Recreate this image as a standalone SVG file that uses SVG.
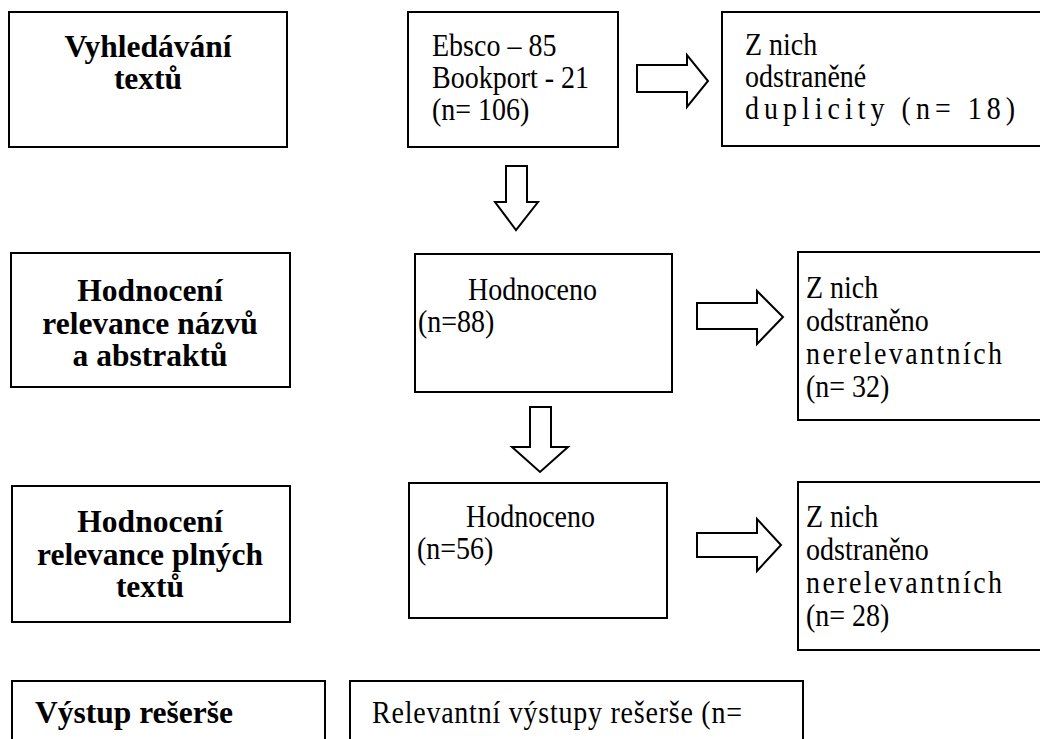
<svg xmlns="http://www.w3.org/2000/svg" width="1040" height="739" viewBox="0 0 1040 739">
<style>
rect.box{fill:#fff;stroke:#000;stroke-width:2}
.arr{fill:#fff;stroke:#000;stroke-width:2;stroke-linejoin:miter}
text{font-family:"Liberation Serif","Times New Roman",serif;fill:#000}
.r{font-size:28px}
.b{font-size:31.5px;font-weight:bold;text-anchor:middle}
</style>
<rect width="1040" height="739" fill="#fff"/>
<g id="connectors">
<polygon class="arr" points="637,65 687,65 687,55 708,81 687,107 687,92 637,92"/>
<polygon class="arr" points="697,303 757,303 757,291 783,317 757,344 757,329 697,329"/>
<polygon class="arr" points="697,533 757,533 757,519 781,545 757,571 757,557 697,557"/>
<polygon class="arr" points="506,166 527,166 527,202 538,202 516,230 495,202 506,202"/>
<polygon class="arr" points="530,407 551,407 551,447 568,447 540,472 512,447 530,447"/>
</g>
<g id="n1"><rect class="box" x="9" y="12" width="278" height="135"/>
<text class="b"><tspan x="148" y="57">Vyhledávání</tspan><tspan x="148" y="89">textů</tspan></text></g>
<g id="n2"><rect class="box" x="408" y="12" width="210" height="135"/>
<g transform="translate(432,56) scale(1,1.12)"><text class="r"><tspan x="0" y="0">Ebsco – 85</tspan><tspan x="0" dy="28.5">Bookport - 21</tspan><tspan x="0" dy="28.5">(n= 106)</tspan></text></g></g>
<g id="n3"><rect class="box" x="722" y="12" width="330" height="134"/>
<g transform="translate(745,55) scale(1,1.12)"><text class="r"><tspan x="0" y="0">Z nich</tspan><tspan x="0" dy="28.5">odstraněné</tspan></text><text class="r" x="0" y="57" textLength="270" lengthAdjust="spacing">duplicity (n= 18)</text></g></g>
<g id="n4"><rect class="box" x="11" y="253" width="279" height="134"/>
<text class="b"><tspan x="150" y="301">Hodnocení</tspan><tspan x="150" y="333.5">relevance názvů</tspan><tspan x="150" y="366">a abstraktů</tspan></text></g>
<g id="n5"><rect class="box" x="415" y="254" width="257" height="138"/>
<g transform="translate(418,300) scale(1,1.12)"><text class="r"><tspan x="50" y="0">Hodnoceno</tspan><tspan x="0" dy="28.5">(n=88)</tspan></text></g></g>
<g id="n6"><rect class="box" x="798" y="252" width="260" height="168"/>
<g transform="translate(806,298) scale(1,1.12)"><text class="r"><tspan x="0" y="0">Z nich</tspan><tspan x="0" dy="29.5">odstraněno</tspan></text><text class="r" x="0" y="59" textLength="196" lengthAdjust="spacing">nerelevantních</text><text class="r" x="0" y="88.5">(n= 32)</text></g></g>
<g id="n7"><rect class="box" x="12" y="486" width="278" height="136"/>
<text class="b"><tspan x="150" y="532">Hodnocení</tspan><tspan x="150" y="564.5">relevance plných</tspan><tspan x="150" y="597">textů</tspan></text></g>
<g id="n8"><rect class="box" x="409" y="483" width="258" height="135"/>
<g transform="translate(417,527) scale(1,1.12)"><text class="r"><tspan x="49" y="0">Hodnoceno</tspan><tspan x="0" dy="28.5">(n=56)</tspan></text></g></g>
<g id="n9"><rect class="box" x="798" y="482" width="260" height="168"/>
<g transform="translate(806,527) scale(1,1.12)"><text class="r"><tspan x="0" y="0">Z nich</tspan><tspan x="0" dy="29.5">odstraněno</tspan></text><text class="r" x="0" y="59" textLength="196" lengthAdjust="spacing">nerelevantních</text><text class="r" x="0" y="88.5">(n= 28)</text></g></g>
<g id="n10"><rect class="box" x="12" y="681" width="313" height="80"/>
<text class="b" x="35" y="723" style="text-anchor:start">Výstup rešerše</text></g>
<g id="n11"><rect class="box" x="350" y="681" width="453" height="80"/>
<g transform="translate(372,723) scale(1,1.12)"><text class="r" textLength="370" lengthAdjust="spacing">Relevantní výstupy rešerše (n=</text></g></g>
</svg>
